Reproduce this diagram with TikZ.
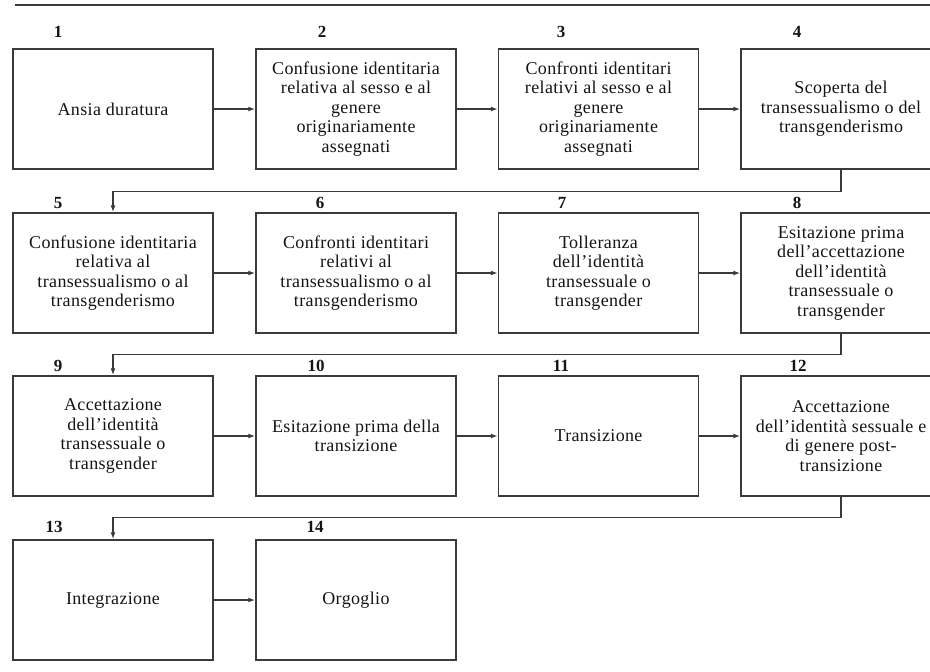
\documentclass[tikz,border=0pt]{standalone}
\usepackage{fontspec}
\setmainfont{Liberation Serif}
\newfontfamily\boxfont[LetterSpace=2]{Liberation Serif}
\usetikzlibrary{arrows.meta}
\definecolor{linegray}{HTML}{3A3A3A}
\definecolor{textcol}{HTML}{141414}
\begin{document}
\begin{tikzpicture}[x=1pt,y=-1pt,
  box/.style={draw=linegray, line width=1.4pt, minimum width=200pt, minimum height=120pt,
    align=center, font=\boxfont\fontsize{18}{19.5}\selectfont, text=textcol, inner sep=0pt},
  num/.style={font=\bfseries\fontsize{17}{20}\selectfont, text=textcol, inner sep=0pt},
  conn/.style={draw=linegray, line width=1.4pt, -{Latex[length=7pt,width=5pt]}},
  rule/.style={draw=linegray, line width=1.6pt}]
\useasboundingbox (0,0) rectangle (930,672);
\clip (0,0) rectangle (930,672);
% top rule
\coordinate (tl) at (15,5);
\coordinate (tr) at (930,5);
\draw[rule] (tl) -- (tr);
% row 1
\node[box] (b1) at (113,109) {Ansia duratura};
\node[box] (b2) at (356,109) {Confusione identitaria\\relativa al sesso e al\\genere\\originariamente\\assegnati};
\node[box] (b3) at (598.5,109) {Confronti identitari\\relativi al sesso e al\\genere\\originariamente\\assegnati};
\node[box] (b4) at (841,109) {Scoperta del\\transessualismo o del\\transgenderismo};
% row 2
\node[box] (b5) at (113,273) {Confusione identitaria\\relativa al\\transessualismo o al\\transgenderismo};
\node[box] (b6) at (356,273) {Confronti identitari\\relativi al\\transessualismo o al\\transgenderismo};
\node[box] (b7) at (598.5,273) {Tolleranza\\dell’identità\\transessuale o\\transgender};
\node[box] (b8) at (841,273) {Esitazione prima\\dell’accettazione\\dell’identità\\transessuale o\\transgender};
% row 3
\node[box] (b9) at (113,436) {Accettazione\\dell’identità\\transessuale o\\transgender};
\node[box] (b10) at (356,436) {Esitazione prima della\\transizione};
\node[box] (b11) at (598.5,436) {Transizione};
\node[box] (b12) at (841,436) {Accettazione\\dell’identità sessuale e\\di genere post-\\transizione};
% row 4
\node[box] (b13) at (113,600) {Integrazione};
\node[box] (b14) at (356,600) {Orgoglio};
% numbers
\node[num] (n1) at (58,32) {1};
\node[num] (n2) at (322,32) {2};
\node[num] (n3) at (561,32) {3};
\node[num] (n4) at (797,32) {4};
\node[num] (n5) at (58,203) {5};
\node[num] (n6) at (320,203) {6};
\node[num] (n7) at (562,203) {7};
\node[num] (n8) at (797,203) {8};
\node[num] (n9) at (58,366) {9};
\node[num] (n10) at (316,366) {10};
\node[num] (n11) at (561,366) {11};
\node[num] (n12) at (798,366) {12};
\node[num] (n13) at (54,527) {13};
\node[num] (n14) at (315,527) {14};
% horizontal connectors
\draw[conn] (b1) -- (b2);
\draw[conn] (b2) -- (b3);
\draw[conn] (b3) -- (b4);
\draw[conn] (b5) -- (b6);
\draw[conn] (b6) -- (b7);
\draw[conn] (b7) -- (b8);
\draw[conn] (b9) -- (b10);
\draw[conn] (b10) -- (b11);
\draw[conn] (b11) -- (b12);
\draw[conn] (b13) -- (b14);
% row transitions
\draw[conn] (b4.south) -- ++(0,22) -| (b5.north);
\draw[conn] (b8.south) -- ++(0,21) -| (b9.north);
\draw[conn] (b12.south) -- ++(0,21) -| (b13.north);
\end{tikzpicture}
\end{document}
